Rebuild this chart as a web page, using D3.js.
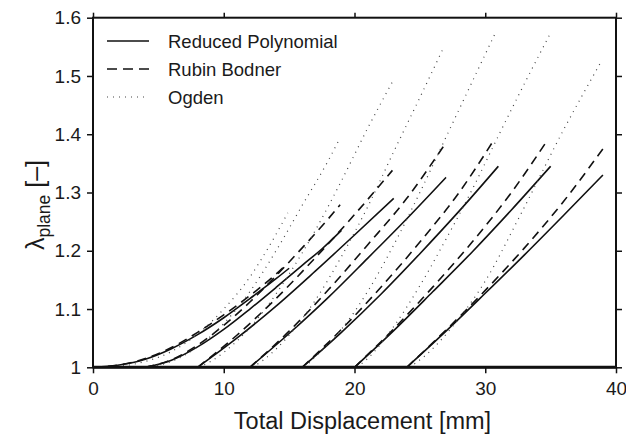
<!DOCTYPE html>
<html><head><meta charset="utf-8">
<script src="https://cdn.jsdelivr.net/npm/d3@7"></script>
<style>body{margin:0;background:#fff} text{font-family:"Liberation Sans",Arial,Helvetica,sans-serif;fill:#1a1a1a}</style>
</head><body><svg id="c" width="626" height="434"></svg>
<script>
const xTicks = [0, 10, 20, 30, 40];
const yTicks = [1, 1.1, 1.2, 1.3, 1.4, 1.5, 1.6];
const yTickLabels = ["1", "1.1", "1.2", "1.3", "1.4", "1.5", "1.6"];
const seriesNames = ["Reduced Polynomial", "Rubin Bodner", "Ogden"];

// Reduced Polynomial (solid), one curve per loading case
const reducedPolynomial = [
  [[0,1],[2,1.004],[4,1.014],[6,1.032],[8,1.056],[10,1.085],[12,1.118],[14,1.152],[15,1.17]],
  [[4,1],[6,1.012],[8,1.035],[10,1.065],[12,1.1],[14,1.137],[16,1.175],[17.5,1.203],[19,1.235]],
  [[8,1],[11,1.05],[14,1.105],[17,1.165],[20,1.227],[23,1.29]],
  [[12,1],[15,1.058],[18,1.12],[21,1.187],[24,1.255],[27,1.326]],
  [[16,1],[19,1.06],[22,1.125],[25,1.195],[28,1.268],[31,1.345]],
  [[20,1],[23,1.063],[26,1.13],[29,1.198],[32,1.27],[35,1.345]],
  [[24,1],[27,1.062],[30,1.127],[33,1.193],[36,1.261],[39,1.33]]
];
// Rubin Bodner (dashed)
const rubinBodner = [
  [[0,1],[2,1.004],[4,1.015],[6,1.034],[8,1.06],[10,1.09],[12,1.123],[14,1.16],[14.8,1.177]],
  [[4,1],[6,1.013],[8,1.038],[10,1.072],[12,1.112],[14,1.157],[16,1.205],[18,1.255],[18.9,1.279]],
  [[8,1],[11,1.055],[14,1.118],[17,1.188],[20,1.262],[22.9,1.338]],
  [[12,1],[15,1.062],[18,1.133],[21,1.21],[24,1.29],[26.8,1.379]],
  [[16,1],[19,1.065],[22,1.137],[25,1.215],[28,1.3],[30.6,1.388]],
  [[20,1],[23,1.066],[26,1.138],[29,1.215],[32,1.3],[34.7,1.388]],
  [[24,1],[27,1.064],[30,1.132],[33,1.205],[36,1.285],[39,1.375]]
];
// Ogden (dotted)
const ogden = [
  [[0,1],[2,1.002],[4,1.01],[6,1.027],[8,1.057],[10,1.1],[12,1.155],[13.4,1.205],[14.9,1.265]],
  [[4,1],[6,1.01],[8,1.035],[10,1.075],[12,1.13],[14,1.2],[16,1.278],[18,1.355],[18.9,1.394]],
  [[8.1,1],[9,1.01],[11,1.045],[13,1.095],[15,1.16],[17,1.235],[19,1.32],[21,1.41],[23,1.494]],
  [[12.2,1],[13,1.012],[15,1.055],[17,1.115],[19,1.19],[21,1.275],[23,1.37],[25,1.463],[26.8,1.548]],
  [[16.2,1],[17,1.018],[19,1.065],[21,1.13],[23,1.21],[25,1.3],[27,1.395],[29,1.49],[30.8,1.575]],
  [[20.2,1],[21,1.015],[23,1.07],[25,1.14],[27,1.22],[29,1.305],[31,1.397],[33,1.487],[35,1.574]],
  [[24.2,1],[25.3,1.018],[27.5,1.07],[30,1.148],[32.7,1.262],[36,1.408],[38.8,1.522]]
];

const styles = [
  {dash: null, width: 1.6, color: "#111"},
  {dash: "9,6", width: 1.6, color: "#111"},
  {dash: "1,5", width: 1.2, color: "#444"}
];

const L = 93, R = 616, T = 17.7, B = 367.3;
const svg = d3.select("#c");
const x = d3.scaleLinear().domain([0, 40]).range([L, R]);
const y = d3.scaleLinear().domain([1, 1.6]).range([B, T]);

svg.append("defs").append("clipPath").attr("id", "clip")
  .append("rect").attr("x", L).attr("y", T).attr("width", R - L).attr("height", B - T);

const line = d3.line().x(d => x(d[0])).y(d => y(d[1])).curve(d3.curveMonotoneX);
const plot = svg.append("g").attr("clip-path", "url(#clip)");
[reducedPolynomial, rubinBodner, ogden].forEach((set, si) => {
  const st = styles[si];
  plot.selectAll(null).data(set).enter().append("path")
    .attr("d", line).attr("fill", "none")
    .attr("stroke", st.color).attr("stroke-width", st.width)
    .attr("stroke-dasharray", st.dash);
});

function styleAxis(g) {
  g.select(".domain").remove();
  g.selectAll(".tick line").attr("stroke", "#111").attr("stroke-width", 1.5);
  g.selectAll(".tick text").attr("font-size", 19).attr("fill", "#1a1a1a");
}
const gx = svg.append("g").attr("transform", `translate(0,${B})`)
  .call(d3.axisBottom(x).tickValues(xTicks).tickSize(6).tickPadding(8).tickFormat(d3.format("d")));
styleAxis(gx);
const gxt = svg.append("g").attr("transform", `translate(0,${T})`)
  .call(d3.axisTop(x).tickValues(xTicks).tickSize(5).tickFormat(""));
styleAxis(gxt);
const gy = svg.append("g").attr("transform", `translate(${L},0)`)
  .call(d3.axisLeft(y).tickValues(yTicks).tickSize(6).tickPadding(6).tickFormat((d, i) => yTickLabels[i]));
styleAxis(gy);
const gyr = svg.append("g").attr("transform", `translate(${R},0)`)
  .call(d3.axisRight(y).tickValues(yTicks).tickSize(6).tickFormat(""));
styleAxis(gyr);

svg.append("rect").attr("x", L).attr("y", T).attr("width", R - L).attr("height", B - T)
  .attr("fill", "none").attr("stroke", "#111").attr("stroke-width", 2);
svg.append("line").attr("x1", L).attr("x2", R).attr("y1", B).attr("y2", B)
  .attr("stroke", "#111").attr("stroke-width", 3);

// legend
const leg = svg.append("g");
seriesNames.forEach((name, i) => {
  const st = styles[i];
  const yy = 41 + i * 28;
  leg.append("line").attr("x1", 107).attr("x2", 149).attr("y1", yy).attr("y2", yy)
    .attr("stroke", st.color).attr("stroke-width", st.width).attr("stroke-dasharray", i === 1 ? "10,6" : st.dash);
  leg.append("text").attr("x", 168).attr("y", yy + 6.5).attr("font-size", 18.5).text(name);
});

// axis titles
svg.append("text").attr("x", (L + R) / 2 + 8).attr("y", 429).attr("text-anchor", "middle")
  .attr("font-size", 23.5).text("Total Displacement [mm]");
const yl = svg.append("text").attr("transform", "translate(44,205) rotate(-90)").attr("text-anchor", "middle")
  .attr("font-size", 25);
yl.append("tspan").text("λ");
yl.append("tspan").attr("font-size", 17.5).attr("dy", 6).text("plane");
yl.append("tspan").attr("dy", -6).text(" [–]");
</script></body></html>
